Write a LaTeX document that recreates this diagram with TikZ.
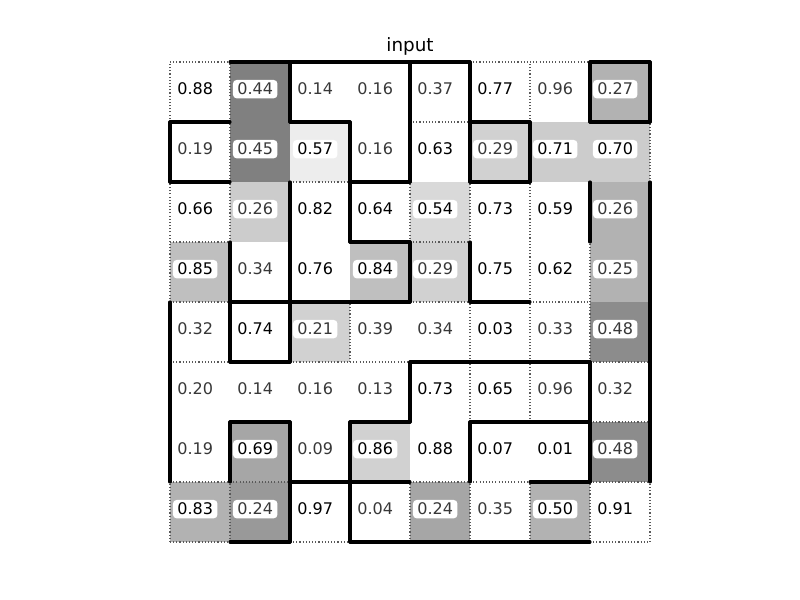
\documentclass[tikz,border=0pt]{standalone}
\usepackage{fontspec}
\setmainfont{DejaVu Sans}
\usepackage{tikz}

\begin{document}
\begin{tikzpicture}[wall/.style={line width=1.45pt,line cap=round},
  seam/.style={densely dotted,line width=0.5pt,black!65},
  val/.style={anchor=base,fill=white,rounded corners=1.8pt,inner xsep=2.1pt,inner ysep=1.5pt,font=\fontsize{7.6}{9}\selectfont},
  lo/.style={text=black!78}]
\useasboundingbox (-2.8333,-0.9667) rectangle (10.5,9.0333);
\fill[black!50] (1,6) rectangle (2,8);
\fill[black!30] (7,7) rectangle (8,8);
\fill[black!7] (2,6) rectangle (3,7);
\fill[black!18] (5,6) rectangle (6,7);
\fill[black!20] (6,6) rectangle (8,7);
\fill[black!20] (1,5) rectangle (2,6);
\fill[black!15] (4,5) rectangle (5,6);
\fill[black!30] (7,4) rectangle (8,6);
\fill[black!25] (0,4) rectangle (1,5);
\fill[black!25] (3,4) rectangle (4,5);
\fill[black!18] (4,4) rectangle (5,5);
\fill[black!18] (2,3) rectangle (3,4);
\fill[black!45] (7,3) rectangle (8,4);
\fill[black!35] (1,1) rectangle (2,2);
\fill[black!18] (3,1) rectangle (4,2);
\fill[black!45] (7,1) rectangle (8,2);
\fill[black!30] (0,0) rectangle (1,1);
\fill[black!40] (1,0) rectangle (2,1);
\fill[black!35] (4,0) rectangle (5,1);
\fill[black!30] (6,0) rectangle (7,1);
\draw[seam] (0,7)--(0,8) (0,4)--(0,6) (0,0)--(0,1);
\draw[seam] (1,5)--(1,8) (1,0)--(1,1);
\draw[seam] (3,3)--(3,4);
\draw[seam] (4,5)--(4,6) (4,0)--(4,1);
\draw[seam] (5,5)--(5,6) (5,2)--(5,4) (5,0)--(5,1);
\draw[seam] (6,7)--(6,8) (6,2)--(6,6) (6,0)--(6,1);
\draw[seam] (7,3)--(7,5) (7,0)--(7,1);
\draw[seam] (8,6)--(8,7) (8,0)--(8,1);
\draw[seam] (0,8)--(1,8) (5,8)--(7,8);
\draw[seam] (4,7)--(5,7);
\draw[seam] (2,6)--(3,6);
\draw[seam] (0,5)--(1,5) (4,5)--(5,5);
\draw[seam] (0,4)--(1,4) (4,4)--(5,4) (6,4)--(7,4);
\draw[seam] (0,3)--(1,3) (2,3)--(4,3) (7,3)--(8,3);
\draw[seam] (7,2)--(8,2);
\draw[seam] (0,1)--(2,1) (4,1)--(6,1) (7,1)--(8,1);
\draw[seam] (0,0)--(1,0) (2,0)--(3,0) (7,0)--(8,0);
\draw[wall] (0,6)--(0,7) (0,1)--(0,4);
\draw[wall] (1,3)--(1,5) (1,1)--(1,2);
\draw[wall] (2,7)--(2,8) (2,3)--(2,6) (2,0)--(2,2);
\draw[wall] (3,5)--(3,7) (3,0)--(3,2);
\draw[wall] (4,6)--(4,8) (4,4)--(4,5) (4,2)--(4,3);
\draw[wall] (5,6)--(5,8) (5,4)--(5,5) (5,1)--(5,2);
\draw[wall] (6,6)--(6,7);
\draw[wall] (7,7)--(7,8) (7,5)--(7,6) (7,1)--(7,3);
\draw[wall] (8,7)--(8,8) (8,1)--(8,6);
\draw[wall] (1,8)--(5,8) (7,8)--(8,8);
\draw[wall] (0,7)--(1,7) (2,7)--(3,7) (5,7)--(6,7) (7,7)--(8,7);
\draw[wall] (0,6)--(1,6) (3,6)--(4,6) (5,6)--(6,6);
\draw[wall] (3,5)--(4,5);
\draw[wall] (1,4)--(4,4) (5,4)--(6,4);
\draw[wall] (1,3)--(2,3) (4,3)--(7,3);
\draw[wall] (1,2)--(2,2) (3,2)--(4,2) (5,2)--(7,2);
\draw[wall] (2,1)--(4,1) (6,1)--(7,1);
\draw[wall] (1,0)--(2,0) (3,0)--(7,0);
\node[anchor=base,font=\fontsize{8.7}{10}\selectfont] (title) at (4,8.17) {input};
\node[val] (v00) at (0.42,7.45) {0.88};
\node[val,lo] (v01) at (1.42,7.45) {0.44};
\node[val,lo] (v02) at (2.42,7.45) {0.14};
\node[val,lo] (v03) at (3.42,7.45) {0.16};
\node[val,lo] (v04) at (4.42,7.45) {0.37};
\node[val] (v05) at (5.42,7.45) {0.77};
\node[val,lo] (v06) at (6.42,7.45) {0.96};
\node[val,lo] (v07) at (7.42,7.45) {0.27};
\node[val,lo] (v10) at (0.42,6.45) {0.19};
\node[val,lo] (v11) at (1.42,6.45) {0.45};
\node[val] (v12) at (2.42,6.45) {0.57};
\node[val,lo] (v13) at (3.42,6.45) {0.16};
\node[val] (v14) at (4.42,6.45) {0.63};
\node[val,lo] (v15) at (5.42,6.45) {0.29};
\node[val] (v16) at (6.42,6.45) {0.71};
\node[val] (v17) at (7.42,6.45) {0.70};
\node[val] (v20) at (0.42,5.45) {0.66};
\node[val,lo] (v21) at (1.42,5.45) {0.26};
\node[val] (v22) at (2.42,5.45) {0.82};
\node[val] (v23) at (3.42,5.45) {0.64};
\node[val] (v24) at (4.42,5.45) {0.54};
\node[val] (v25) at (5.42,5.45) {0.73};
\node[val] (v26) at (6.42,5.45) {0.59};
\node[val,lo] (v27) at (7.42,5.45) {0.26};
\node[val] (v30) at (0.42,4.45) {0.85};
\node[val,lo] (v31) at (1.42,4.45) {0.34};
\node[val] (v32) at (2.42,4.45) {0.76};
\node[val] (v33) at (3.42,4.45) {0.84};
\node[val,lo] (v34) at (4.42,4.45) {0.29};
\node[val] (v35) at (5.42,4.45) {0.75};
\node[val] (v36) at (6.42,4.45) {0.62};
\node[val,lo] (v37) at (7.42,4.45) {0.25};
\node[val,lo] (v40) at (0.42,3.45) {0.32};
\node[val] (v41) at (1.42,3.45) {0.74};
\node[val,lo] (v42) at (2.42,3.45) {0.21};
\node[val,lo] (v43) at (3.42,3.45) {0.39};
\node[val,lo] (v44) at (4.42,3.45) {0.34};
\node[val] (v45) at (5.42,3.45) {0.03};
\node[val,lo] (v46) at (6.42,3.45) {0.33};
\node[val,lo] (v47) at (7.42,3.45) {0.48};
\node[val,lo] (v50) at (0.42,2.45) {0.20};
\node[val,lo] (v51) at (1.42,2.45) {0.14};
\node[val,lo] (v52) at (2.42,2.45) {0.16};
\node[val,lo] (v53) at (3.42,2.45) {0.13};
\node[val] (v54) at (4.42,2.45) {0.73};
\node[val] (v55) at (5.42,2.45) {0.65};
\node[val,lo] (v56) at (6.42,2.45) {0.96};
\node[val,lo] (v57) at (7.42,2.45) {0.32};
\node[val,lo] (v60) at (0.42,1.45) {0.19};
\node[val] (v61) at (1.42,1.45) {0.69};
\node[val,lo] (v62) at (2.42,1.45) {0.09};
\node[val] (v63) at (3.42,1.45) {0.86};
\node[val] (v64) at (4.42,1.45) {0.88};
\node[val] (v65) at (5.42,1.45) {0.07};
\node[val] (v66) at (6.42,1.45) {0.01};
\node[val,lo] (v67) at (7.42,1.45) {0.48};
\node[val] (v70) at (0.42,0.45) {0.83};
\node[val,lo] (v71) at (1.42,0.45) {0.24};
\node[val] (v72) at (2.42,0.45) {0.97};
\node[val,lo] (v73) at (3.42,0.45) {0.04};
\node[val,lo] (v74) at (4.42,0.45) {0.24};
\node[val,lo] (v75) at (5.42,0.45) {0.35};
\node[val] (v76) at (6.42,0.45) {0.50};
\node[val] (v77) at (7.42,0.45) {0.91};
\end{tikzpicture}
\end{document}
